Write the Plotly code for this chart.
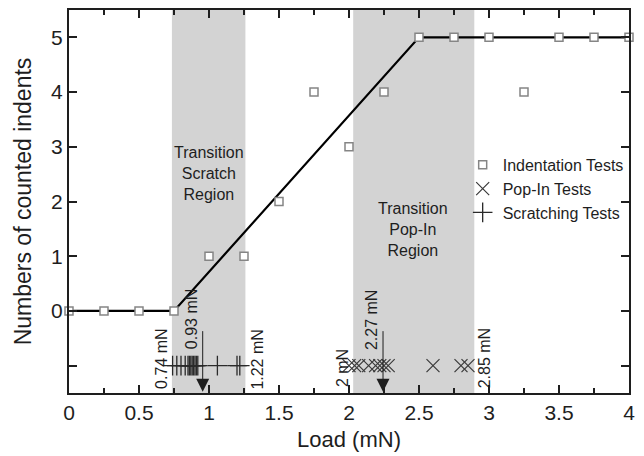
import plotly.graph_objects as go

# ---- data ----
indent_load = [0, 0.25, 0.5, 0.75, 1.0, 1.25, 1.5, 1.75, 2.0, 2.25, 2.5, 2.75, 3.0, 3.25, 3.5, 3.75, 4.0]
indent_count = [0, 0, 0, 0, 1, 1, 2, 4, 3, 4, 5, 5, 5, 4, 5, 5, 5]

fit_load = [0, 0.75, 2.5, 4.0]
fit_count = [0, 0, 5, 5]

scratch_load = [0.74, 0.77, 0.80, 0.83, 0.85, 0.86, 0.87, 0.88, 0.89, 0.90, 0.91, 0.92, 1.06, 1.20, 1.22]
popin_load = [2.00, 2.04, 2.07, 2.14, 2.19, 2.22, 2.25, 2.28, 2.60, 2.80, 2.85]
test_row = -1  # y level of the scratch / pop-in rows

scratch_region = [0.735, 1.26]
popin_region = [2.03, 2.895]
mean_arrow_load = [0.955, 2.243]

edge_labels = ["0.74 mN", "0.93 mN", "1.22 mN", "2 mN", "2.27 mN", "2.85 mN"]
region_labels = ["Transition<br>Scratch<br>Region", "Transition<br>Pop-In<br>Region"]

x_ticks = [0, 0.5, 1, 1.5, 2, 2.5, 3, 3.5, 4]
x_ticktext = ["0", "0.5", "1", "1.5", "2", "2.5", "3", "3.5", "4"]
y_ticks = [-1, 0, 1, 2, 3, 4, 5]
y_ticktext = ["", "0", "1", "2", "3", "4", "5"]

FONT = "Arial, Liberation Sans, sans-serif"
INK = "#1e1e1e"

fig = go.Figure()

fig.add_trace(go.Scatter(x=fit_load, y=fit_count, mode="lines",
                         line=dict(color="black", width=2.2), showlegend=False,
                         cliponaxis=False))
fig.add_trace(go.Scatter(x=indent_load, y=indent_count, mode="markers", name="Indentation Tests",
                         legendgroup="a",
                         marker=dict(symbol="square", size=8, color="white",
                                     line=dict(color="#858585", width=1.5)),
                         cliponaxis=False))
fig.add_trace(go.Scatter(x=popin_load, y=[test_row] * len(popin_load), mode="markers",
                         name="Pop-In Tests", legendgroup="b",
                         marker=dict(symbol="x-thin-open", size=13, color="#3a3a3a",
                                     line=dict(color="#3a3a3a", width=1.2)),
                         cliponaxis=False))
fig.add_trace(go.Scatter(x=scratch_load, y=[test_row] * len(scratch_load), mode="markers",
                         name="Scratching Tests", legendgroup="c",
                         marker=dict(symbol="cross-thin-open", size=14, color="#2a2a2a",
                                     line=dict(color="#2a2a2a", width=1.3)),
                         cliponaxis=False))

# shaded transition regions
for r in (scratch_region, popin_region):
    fig.add_shape(type="rect", xref="x", yref="paper", x0=r[0], x1=r[1], y0=0, y1=1,
                  fillcolor="#d3d3d3", line=dict(width=0), layer="below")

# region texts
fig.add_annotation(x=sum(scratch_region) / 2, y=2.52, text=region_labels[0], showarrow=False,
                   font=dict(family=FONT, size=16, color=INK), align="center")
fig.add_annotation(x=2.46, y=1.49, text=region_labels[1], showarrow=False,
                   font=dict(family=FONT, size=16, color=INK), align="center")

# vertical edge labels
label_pos = [(0.66, -0.87), (0.875, -0.16), (1.35, -0.89), (1.955, -1.05), (2.16, -0.16), (2.97, -0.87)]
for txt, (lx, ly) in zip(edge_labels, label_pos):
    fig.add_annotation(x=lx, y=ly, text=txt, textangle=-90, showarrow=False,
                       font=dict(family=FONT, size=16, color=INK))

# mean arrows
for m in mean_arrow_load:
    fig.add_annotation(x=m, y=-1.475, ax=0, ay=-62, text="", showarrow=True,
                       arrowhead=2, arrowsize=2.6, arrowwidth=1, arrowcolor=INK,
                       standoff=0)

axis_common = dict(showline=True, linecolor=INK, linewidth=2, mirror="ticks",
                   ticks="inside", tickcolor=INK, tickwidth=1.5, showgrid=False,
                   zeroline=False, tickfont=dict(family=FONT, size=21, color=INK))

fig.update_xaxes(range=[0, 4], tickvals=x_ticks, ticktext=x_ticktext, ticklen=8,
                 minor=dict(dtick=0.25, ticks="inside", ticklen=5, tickcolor=INK, tickwidth=1.5),
                 title=dict(text="Load (mN)", font=dict(family=FONT, size=22, color=INK), standoff=8),
                 **axis_common)
fig.update_yaxes(range=[-1.5, 5.5], tickvals=y_ticks, ticktext=y_ticktext, ticklen=8,
                 title=dict(text="Numbers of counted indents",
                            font=dict(family=FONT, size=23, color=INK), standoff=13),
                 **axis_common)

fig.update_layout(
    width=644, height=456,
    margin=dict(l=69, r=15, t=8, b=61),
    plot_bgcolor="white", paper_bgcolor="white",
    font=dict(family=FONT, color=INK),
    legend=dict(x=0.703, y=0.64, xanchor="left", yanchor="top",
                bgcolor="rgba(0,0,0,0)", font=dict(family=FONT, size=16, color=INK),
                itemwidth=30, tracegroupgap=0),
)

fig.write_html("out.html")
